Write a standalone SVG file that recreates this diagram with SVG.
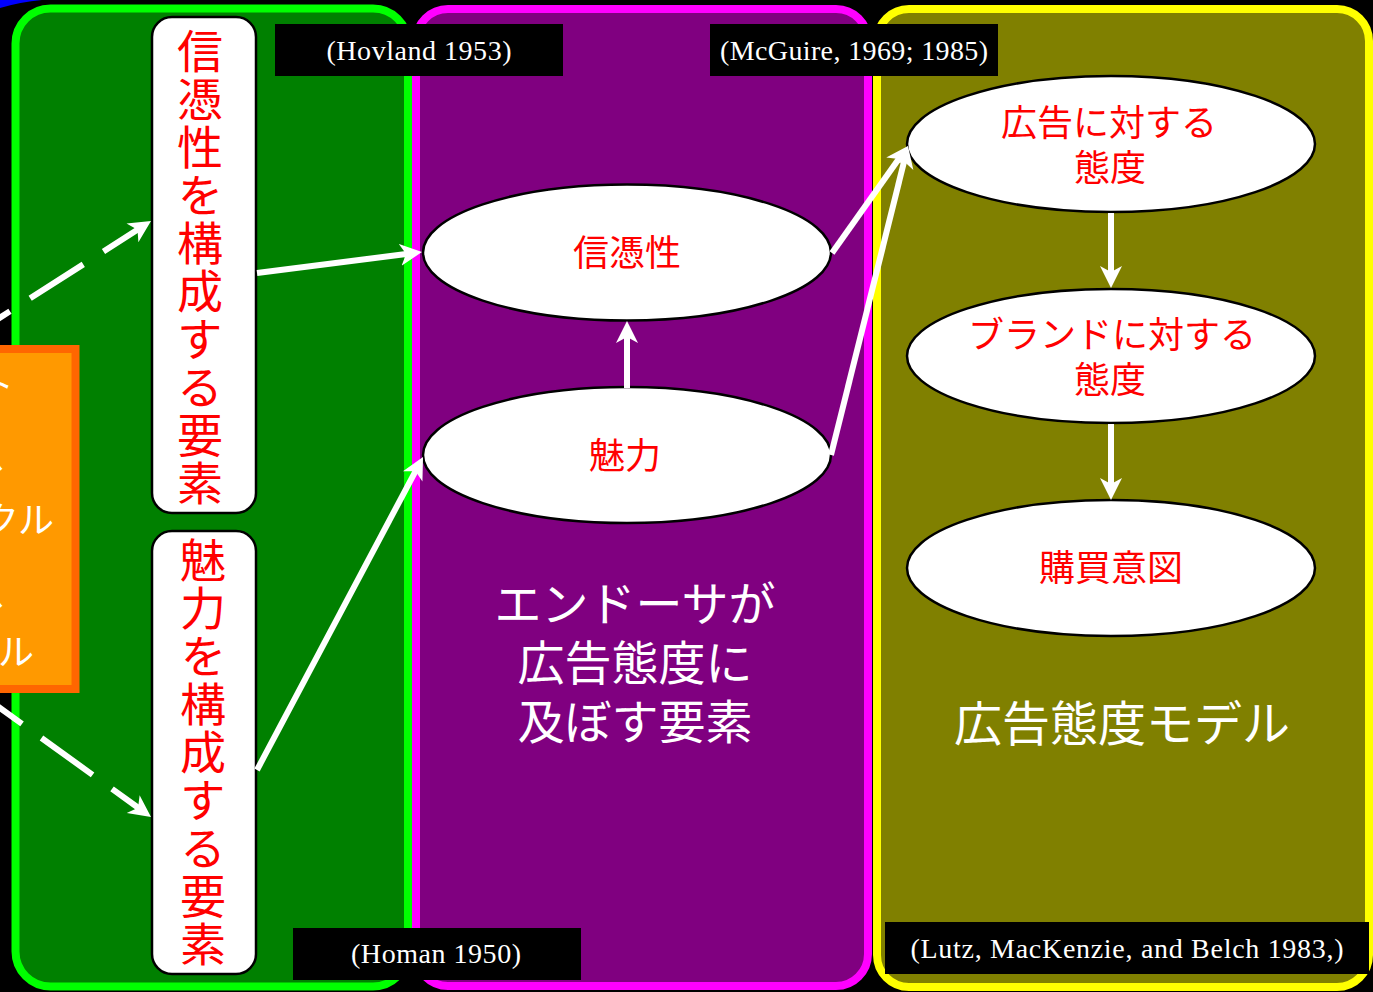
<svg xmlns="http://www.w3.org/2000/svg" width="1373" height="992" viewBox="0 0 1373 992">
<style>
.cite{fill:#000}
.citet{font-family:"Liberation Serif",serif;font-size:28px;fill:#fff;text-anchor:middle}
.node{fill:#fff;stroke:#000;stroke-width:2.5}
.red{font-family:"Noto Sans CJK JP",sans-serif;font-size:36px;fill:#f00;text-anchor:middle}
.vt{font-family:"Noto Sans CJK JP",sans-serif;font-size:46px;fill:#f00;writing-mode:vertical-rl;text-anchor:middle;letter-spacing:2px}
.wt{font-family:"Noto Sans CJK JP",sans-serif;fill:#fff;text-anchor:middle}
.ln{stroke:#fff;stroke-width:6;fill:none;marker-end:url(#ah)}
.dash{stroke-dasharray:63 24}
</style>
<defs>
<marker id="ah" markerUnits="userSpaceOnUse" markerWidth="24" markerHeight="24" refX="10" refY="12" orient="auto">
<path d="M0,1 L22,12 L0,23 L6,12 z" fill="#fff"/>
</marker>
</defs>
<rect width="1373" height="992" fill="#000"/>
<path d="M0,0 L42,0 Q20,2 0,8 Z" fill="#0000ff"/>

<g id="panel-green"><rect x="15.5" y="8.5" width="392.5" height="978" rx="35" fill="#008000" stroke="#00ff00" stroke-width="8"/></g>
<g id="panel-purple"><rect x="416" y="9" width="452" height="977" rx="32" fill="#800080" stroke="#ff00ff" stroke-width="8"/></g>
<g id="panel-olive"><rect x="877" y="9" width="492" height="978" rx="32" fill="#808000" stroke="#ffff00" stroke-width="8"/></g>

<g id="cite-hovland"><rect class="cite" x="275" y="24" width="288" height="52"/><text class="citet" x="419" y="60" textLength="185">(Hovland 1953)</text></g>
<g id="cite-mcguire"><rect class="cite" x="710" y="24" width="288" height="52"/><text class="citet" x="854" y="60" textLength="268">(McGuire, 1969; 1985)</text></g>
<g id="cite-homan"><rect class="cite" x="293" y="928" width="288" height="52"/><text class="citet" x="436" y="963" textLength="170">(Homan 1950)</text></g>
<g id="cite-lutz"><rect class="cite" x="885" y="922" width="484" height="52"/><text class="citet" x="1127" y="958" textLength="433">(Lutz, MacKenzie, and Belch 1983,)</text></g>

<g id="source-box">
<rect x="-20" y="349" width="95.5" height="340" fill="#ff9900" stroke="#ff6600" stroke-width="8"/>
<g font-size="36">
<text class="wt" x="14" y="398" style="text-anchor:end">ト</text>
<text class="wt" x="6" y="470" style="text-anchor:end">ス</text>
<text class="wt" x="54" y="533" style="text-anchor:end">クル</text>
<text class="wt" x="6" y="607" style="text-anchor:end">ス</text>
<text class="wt" x="34" y="665" style="text-anchor:end">クル</text>
</g>
</g>

<g id="box-credibility-factors"><rect class="node" x="152" y="17" width="104" height="496" rx="20"/><text class="vt" x="200" y="268">信憑性を構成する要素</text></g>
<g id="box-attractiveness-factors"><rect class="node" x="152" y="531" width="104" height="443" rx="20"/><text class="vt" x="203" y="753">魅力を構成する要素</text></g>

<g id="node-credibility"><ellipse class="node" cx="627" cy="252.5" rx="204" ry="68"/><text class="red" x="627" y="266">信憑性</text></g>
<g id="node-attractiveness"><ellipse class="node" cx="627" cy="455" rx="204" ry="68"/><text class="red" x="625" y="469">魅力</text></g>
<g id="node-ad-attitude"><ellipse class="node" cx="1111" cy="144" rx="204" ry="68"/><text class="red" x="1109" y="135.5">広告に対する</text><text class="red" x="1110" y="180.5">態度</text></g>
<g id="node-brand-attitude"><ellipse class="node" cx="1111" cy="356" rx="204" ry="67"/><text class="red" x="1112" y="347.5">ブランドに対する</text><text class="red" x="1110" y="392.5">態度</text></g>
<g id="node-purchase-intent"><ellipse class="node" cx="1111" cy="568" rx="204" ry="68"/><text class="red" x="1111" y="581">購買意図</text></g>

<g id="label-endorser" font-size="47"><text class="wt" x="635" y="621">エンドーサが</text><text class="wt" x="635" y="680">広告態度に</text><text class="wt" x="635" y="739">及ぼす要素</text></g>
<g id="label-model"><text class="wt" font-size="48" x="1122" y="741">広告態度モデル</text></g>

<g id="connectors">
<line class="ln dash" x1="-10" y1="324" x2="140.9" y2="227.5" stroke-dashoffset="39.3"/>
<line class="ln dash" x1="-10" y1="700.8" x2="141.3" y2="810" stroke-dashoffset="23.5"/>
<line class="ln" x1="257" y1="273" x2="410.1" y2="253.5"/>
<line class="ln" x1="257" y1="770" x2="417.4" y2="467.6"/>
<line class="ln" x1="627" y1="388" x2="627" y2="333"/>
<line class="ln" x1="832" y1="253" x2="901" y2="155.8"/>
<line class="ln" x1="831" y1="455" x2="905.1" y2="157.6"/>
<line class="ln" x1="1111" y1="213" x2="1111" y2="276"/>
<line class="ln" x1="1111" y1="424" x2="1111" y2="488"/>
</g>
</svg>
